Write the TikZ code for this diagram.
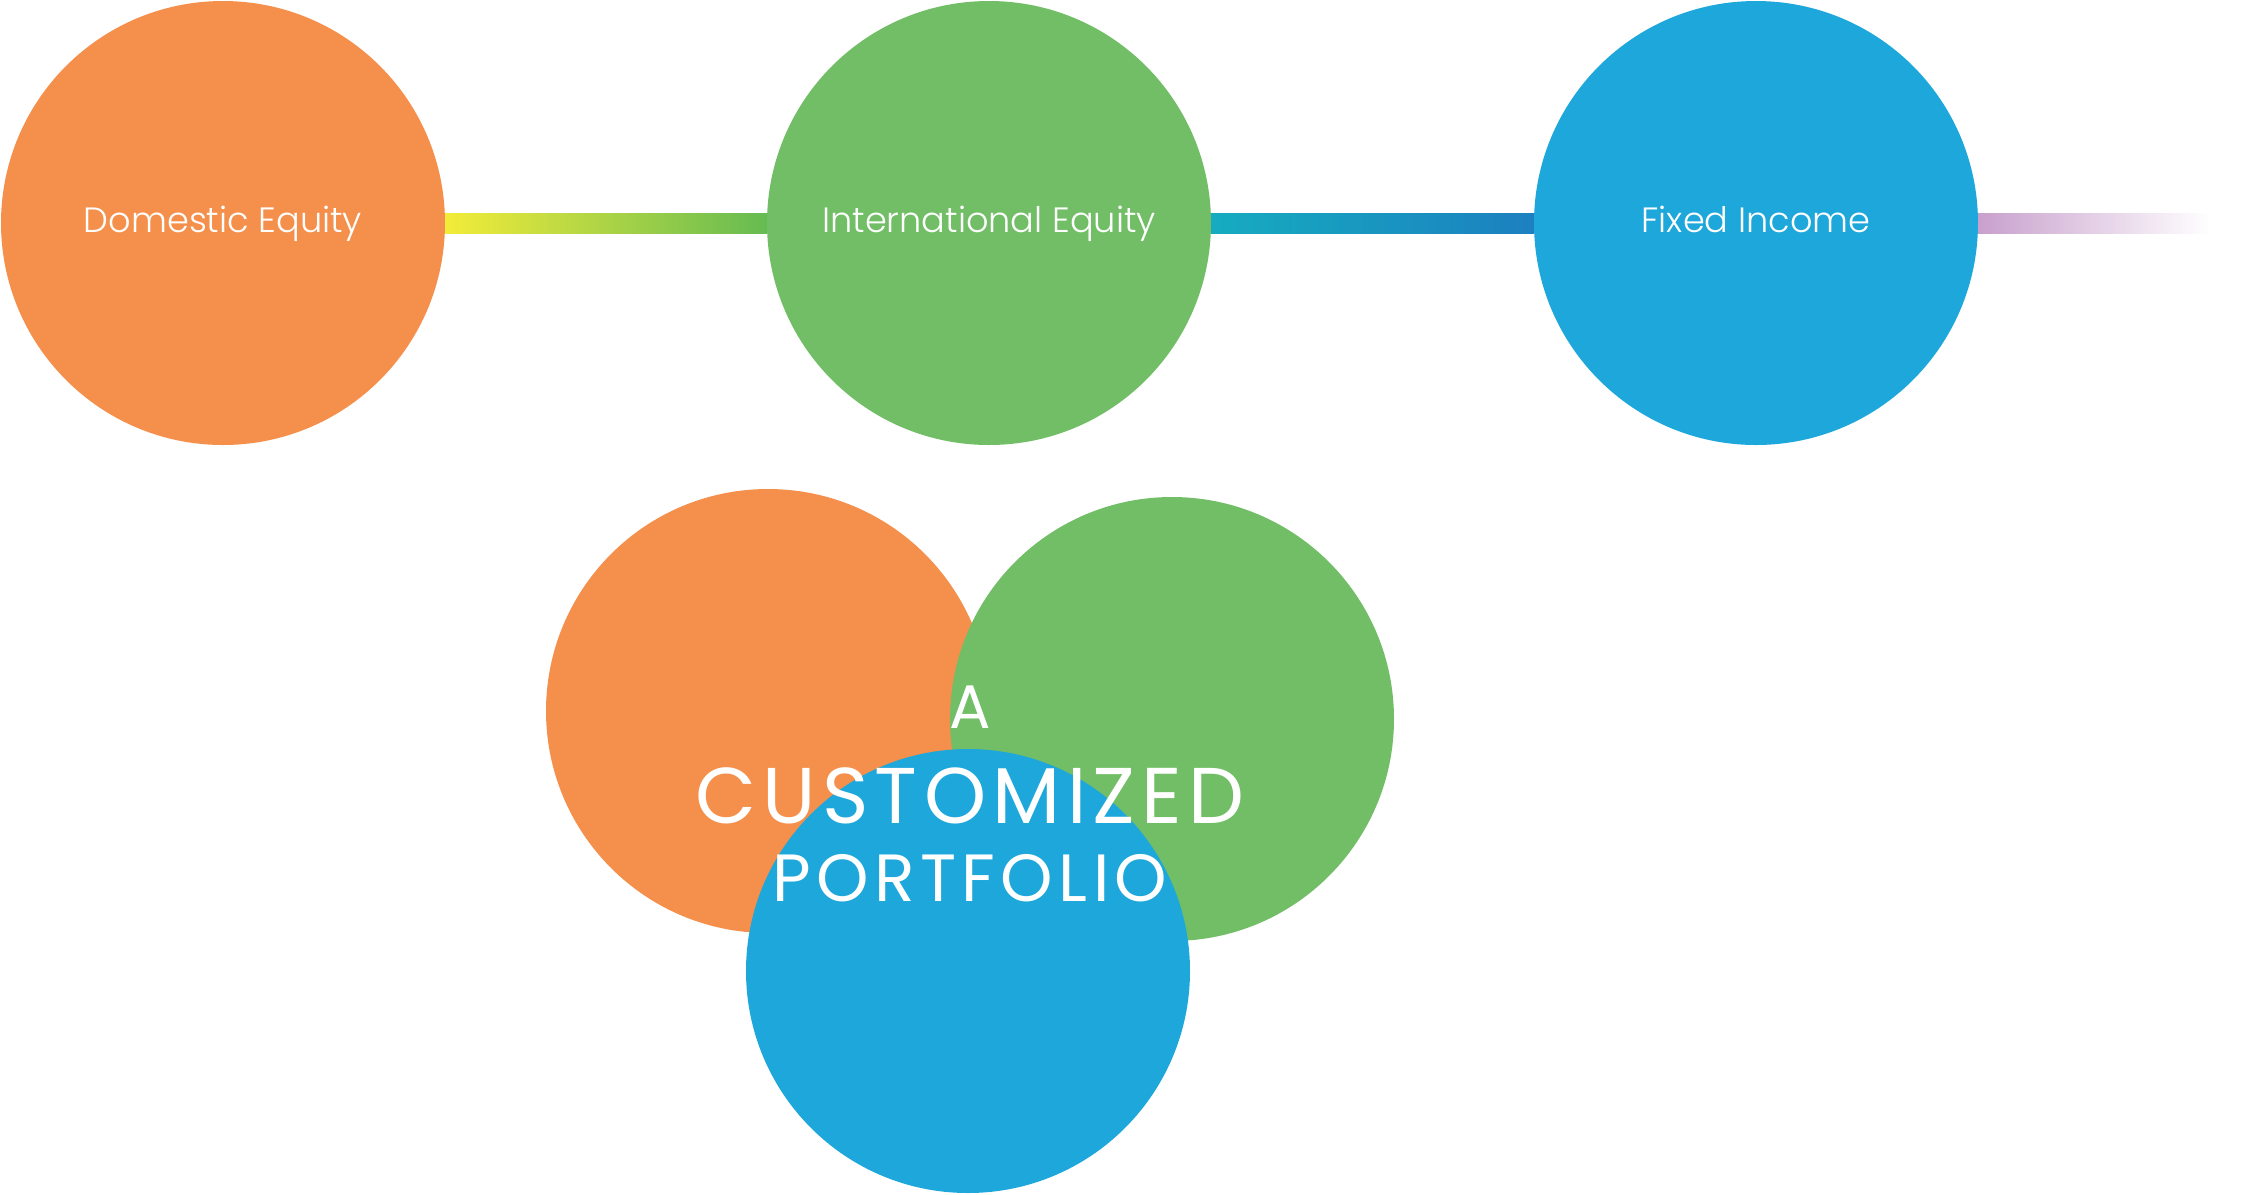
\documentclass[tikz,border=0pt]{standalone}
\usepackage{fontspec}
\setmainfont{Poppins}[UprightFont={* Light}]
\newfontfamily\titlefont{Poppins}[LetterSpace=8]
\usepackage{tikz}
\usetikzlibrary{shapes,positioning,backgrounds}
\definecolor{cbOrange}{RGB}{245,144,76}
\definecolor{cbGreen}{RGB}{114,190,103}
\definecolor{cbBlue}{RGB}{29,167,219}
\definecolor{barYellow}{RGB}{243,236,57}
\definecolor{barLime}{RGB}{190,212,80}
\definecolor{barGreen}{RGB}{101,187,82}
\definecolor{barTeal}{RGB}{22,172,192}
\definecolor{barCyan}{RGB}{26,178,228}
\definecolor{barNavy}{RGB}{28,128,192}
\definecolor{barPurple}{RGB}{200,160,205}

\begin{document}
\begin{tikzpicture}%
  \tikzset{bar/.style={draw=none}}
  \tikzset{title text/.style={rectangle, minimum size=0pt, text height=, text depth=}}
  \tikzstyle{every node}=[draw=none, text=white, circle, minimum size=4.44cm, outer sep=0pt, inner sep=0pt, text height=0.75em, text depth=0.2em, font=\fontsize{10}{12}\selectfont]

  \useasboundingbox (0,0) rectangle (22.53,-11.94);

  \node[fill=cbOrange] at (2.23,-2.23) (dom) {Domestic Equity};
  \node[fill=cbGreen] at (9.89,-2.23) (intl) {International Equity};
  \node[fill=cbBlue] at (17.56,-2.23) (fixed) {Fixed Income};
  \coordinate (fade) at (22.10,-2.33);

  \begin{scope}[on background layer]
    \path[bar, left color=barYellow, middle color=barLime, right color=barGreen]
      ([yshift=1mm]dom.east) rectangle ([yshift=-1mm]intl.west);
    \path[bar, left color=barTeal, middle color=barCyan, right color=barNavy]
      ([yshift=1mm]intl.east) rectangle ([yshift=-1mm]fixed.west);
    \path[bar, left color=barPurple, right color=white]
      ([yshift=1mm]fixed.east) rectangle (fade);
  \end{scope}

  \node[fill=cbOrange] at (7.68,-7.11) (mixA) {};
  \node[fill=cbGreen] at (11.72,-7.19) (mixB) {};
  \node[fill=cbBlue] at (9.68,-9.71) (mixC) {};

  \node[title text, font=\titlefont\fontsize{17.5}{20}\selectfont] at (9.70,-7.07) (tA) {A};
  \node[title text, font=\titlefont\fontsize{22.5}{26}\selectfont] at (9.70,-7.96) (tB) {CUSTOMIZED};
  \node[title text, font=\titlefont\fontsize{19}{22}\selectfont] at (9.70,-8.78) (tC) {PORTFOLIO};
\end{tikzpicture}
\end{document}
